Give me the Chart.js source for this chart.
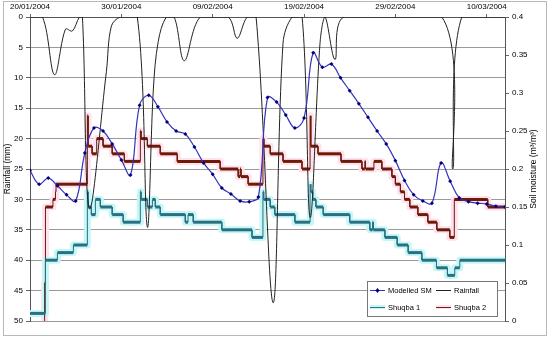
<!DOCTYPE html>
<html>
<head>
<meta charset="utf-8">
<script src="https://cdn.jsdelivr.net/npm/chart.js@4.4.0/dist/chart.umd.min.js"></script>
<style>
    html, body { margin: 0; padding: 0; background: #fff; }
    #wrap { width: 550px; height: 340px; position: relative; }
</style>
</head>
<body>
<div id="wrap"><canvas id="grafico"></canvas></div>
<script>
// eixo x: dias desde 20/01/2004
const dateLabels = ['20/01/2004', '30/01/2004', '09/02/2004', '19/02/2004', '29/02/2004', '10/03/2004'];
const lastDay = 52;

// chuva (mm) - eixo esquerdo invertido
const rainDays = [0, 1.37, 2.68, 3.88, 4.64, 5.41, 5.74, 6.50, 8.36, 8.91, 9.89, 11.75, 12.84, 13.50, 14.04, 14.92,
    15.79, 16.89, 18.64, 21.69, 22.68, 23.77, 24.75, 26.61, 27.70, 28.69, 29.79, 30.67, 31.75, 32.30, 33.39, 34.37,
    45.08, 46.28, 47.27, 52];
const rainMm = [0, 0, 9.5, 2.0, 2.3, 0, 0, 31.5, 9, 1.5, 0, 0, 34.5, 12, 4, 0,
    0, 7.2, 0, 0, 3.5, 0, 0, 47, 4.3, 0, 0, 33, 4.3, 0, 7, 0,
    0, 25, 0, 0];

// umidade modelada (m3/m3), um valor por dia
const modelledSM = [0.198, 0.180, 0.188, 0.178, 0.166, 0.158, 0.221, 0.254, 0.250, 0.233,
    0.212, 0.192, 0.284, 0.297, 0.282, 0.262, 0.250, 0.246, 0.229, 0.208,
    0.193, 0.175, 0.167, 0.158, 0.157, 0.163, 0.294, 0.288, 0.271, 0.254,
    0.267, 0.353, 0.334, 0.338, 0.320, 0.303, 0.286, 0.268, 0.250, 0.233,
    0.211, 0.185, 0.166, 0.158, 0.155, 0.208, 0.184, 0.162, 0.157, 0.155,
    0.154, 0.151, 0.150];

// Shuqba 1 - inicio de cada degrau (dia) e valor
const s1Days = [0, 1.69, 3.0, 4.75, 6.28, 6.36, 6.72, 7.16, 7.70, 9.0, 10.2, 12.08, 12.16, 12.85, 13.40, 13.72,
    14.26, 17.0, 17.3, 17.87, 21.0, 24.3, 25.5, 25.58, 26.3, 26.8, 29.0, 30.66, 30.74, 30.95, 31.3, 32.1,
    35.0, 37.2, 37.5, 37.58, 38.85, 40.2, 41.4, 42.9, 44.5, 45.7, 46.5, 47.05];
const s1Vals = [0.01, 0.08, 0.09, 0.10, 0.17, 0.15, 0.14, 0.16, 0.15, 0.14, 0.13, 0.17, 0.16, 0.15, 0.16, 0.15,
    0.14, 0.13, 0.14, 0.13, 0.12, 0.11, 0.17, 0.16, 0.15, 0.14, 0.13, 0.18, 0.17, 0.16, 0.15, 0.14,
    0.13, 0.12, 0.13, 0.12, 0.11, 0.10, 0.09, 0.08, 0.07, 0.06, 0.07, 0.08];

// Shuqba 2
const s2Days = [1.55, 1.60, 1.69, 2.51, 2.79, 2.85, 6.28, 6.36, 6.80, 7.30, 8.0, 9.0, 10.33, 12.08, 12.16, 12.85,
    14.26, 16.12, 20.82, 22.79, 23.0, 23.1, 23.88, 25.5, 25.6, 26.3, 27.7, 29.78, 30.66, 30.74, 31.53, 34.05,
    36.34, 36.65, 36.73, 37.65, 38.52, 39.62, 40.0, 40.55, 41.0, 41.58, 42.46, 43.55, 44.54, 45.96, 46.45, 50.11];
const s2Vals = [0.0, 0.05, 0.15, 0.16, 0.17, 0.18, 0.27, 0.23, 0.22, 0.24, 0.23, 0.22, 0.21, 0.25, 0.24, 0.23,
    0.22, 0.21, 0.20, 0.19, 0.20, 0.19, 0.18, 0.24, 0.23, 0.22, 0.21, 0.20, 0.27, 0.23, 0.22, 0.21,
    0.20, 0.21, 0.20, 0.21, 0.20, 0.19, 0.18, 0.17, 0.16, 0.15, 0.14, 0.13, 0.12, 0.11, 0.16, 0.15];

const fonte = "'Liberation Sans', Arial, sans-serif";
Chart.defaults.font.family = fonte;
Chart.defaults.font.size = 8;
Chart.defaults.color = '#000';

function pontosDegrau(days, vals, fim) {
    const pts = [];
    for (let i = 0; i < days.length; i++) {
        const prox = i + 1 < days.length ? days[i + 1] : fim;
        pts.push({x: days[i], y: vals[i]}, {x: prox, y: vals[i]});
    }
    return pts;
}

const rainPts = rainDays.map((d, i) => ({x: d, y: rainMm[i]}));
const smPts = modelledSM.map((v, i) => ({x: i, y: v}));
const s1Pts = pontosDegrau(s1Days, s1Vals, lastDay);
const s2Pts = pontosDegrau(s2Days, s2Vals, lastDay);

const larguraDegrau = ctx => ctx.p0.parsed.y === ctx.p1.parsed.y ? 3 : 1;

const legendaItens = [
    {label: 'Modelled SM', tipo: 'sm'},
    {label: 'Rainfall', tipo: 'rain'},
    {label: 'Shuqba 1', tipo: 's1'},
    {label: 'Shuqba 2', tipo: 's2'}
];

const extras = {
    id: 'extras',
    beforeDraw(chart) {
        const c = chart.ctx;
        c.save();
        c.strokeStyle = '#b8b8b8';
        c.lineWidth = 1;
        c.strokeRect(3.5, 1.5, 543, 334);
        c.restore();
    },
    afterDraw(chart) {
        const c = chart.ctx;
        const area = chart.chartArea;
        c.save();
        // titulo do eixo direito, de baixo para cima
        c.font = '8.5px ' + fonte;
        c.fillStyle = '#000';
        c.textAlign = 'center';
        c.textBaseline = 'middle';
        c.translate(534, (area.top + area.bottom) / 2);
        c.rotate(-Math.PI / 2);
        c.fillText('Soil moisture (m³/m³)', 0, 0);
        c.restore();

        // legenda
        const bx = 367, by = 281, bw = 130, bh = 35;
        c.save();
        c.fillStyle = '#fff';
        c.fillRect(bx, by, bw, bh);
        c.strokeStyle = '#777';
        c.lineWidth = 1;
        c.strokeRect(bx + 0.5, by + 0.5, bw, bh);
        c.font = '7.5px ' + fonte;
        c.textBaseline = 'middle';
        c.textAlign = 'left';
        legendaItens.forEach((item, i) => {
            const lx = bx + 3 + (i % 2) * 66;
            const ly = by + 9 + Math.floor(i / 2) * 17;
            c.lineCap = 'butt';
            if (item.tipo === 's1' || item.tipo === 's2') {
                c.strokeStyle = item.tipo === 's1' ? '#c6f7f7' : '#ffe2ef';
                c.lineWidth = 4;
                c.beginPath(); c.moveTo(lx, ly); c.lineTo(lx + 15, ly); c.stroke();
            }
            c.strokeStyle = item.tipo === 'sm' ? '#3434b8' : item.tipo === 'rain' ? '#222'
                : item.tipo === 's1' ? '#2c7486' : '#7a1c08';
            c.lineWidth = 1;
            c.beginPath(); c.moveTo(lx, ly + 0.5); c.lineTo(lx + 15, ly + 0.5); c.stroke();
            if (item.tipo === 'sm') {
                c.fillStyle = '#000080';
                c.beginPath();
                c.moveTo(lx + 7.5, ly - 2); c.lineTo(lx + 9.5, ly + 0.5);
                c.lineTo(lx + 7.5, ly + 3); c.lineTo(lx + 5.5, ly + 0.5);
                c.closePath(); c.fill();
            }
            c.fillStyle = '#000';
            c.fillText(item.label, lx + 18, ly + 0.5);
        });
        c.restore();
    }
};

const grafico = new Chart(document.getElementById('grafico'), {
    type: 'line',
    data: {
        datasets: [{
                label: 'Modelled SM',
                data: smPts,
                yAxisID: 'y2',
                borderColor: '#3434b8',
                borderWidth: 1.2,
                tension: 0.4,
                pointStyle: 'rectRot',
                pointRadius: 2,
                pointBackgroundColor: '#000080',
                pointBorderColor: '#000080',
                pointBorderWidth: 0
            },
            {
                label: 'Rainfall',
                data: rainPts,
                yAxisID: 'y',
                borderColor: '#222',
                borderWidth: 1,
                tension: 0.35,
                pointRadius: 0
            },
            {
                label: 'Shuqba 1',
                data: s1Pts,
                yAxisID: 'y2',
                borderColor: '#2a6f82',
                borderWidth: 3,
                pointRadius: 0,
                segment: { borderWidth: larguraDegrau }
            },
            {
                label: 'Shuqba 2',
                data: s2Pts,
                yAxisID: 'y2',
                borderColor: '#6e1a06',
                borderWidth: 3,
                pointRadius: 0,
                segment: { borderWidth: larguraDegrau }
            },
            {
                label: 'glow1',
                data: s1Pts,
                yAxisID: 'y2',
                borderColor: '#c6f7f7',
                borderWidth: 7,
                borderJoinStyle: 'round',
                pointRadius: 0
            },
            {
                label: 'glow2',
                data: s2Pts,
                yAxisID: 'y2',
                borderColor: '#ffe2ef',
                borderWidth: 7,
                borderJoinStyle: 'round',
                pointRadius: 0
            }
        ]
    },
    options: {
        responsive: true,
        maintainAspectRatio: false,
        animation: false,
        layout: {
            padding: { left: 0, right: 0, top: 0, bottom: 19 }
        },
        plugins: {
            legend: { display: false },
            tooltip: { enabled: false }
        },
        scales: {
            x: {
                type: 'linear',
                position: 'top',
                min: 0,
                max: lastDay,
                afterFit: s => { s.height = 17; },
                grid: {
                    drawOnChartArea: false,
                    tickLength: 3,
                    tickColor: '#666'
                },
                border: { color: '#555' },
                ticks: {
                    stepSize: 10,
                    includeBounds: false,
                    maxRotation: 0,
                    autoSkip: false,
                    padding: 2,
                    callback: function (value) {
                        return dateLabels[value / 10] || '';
                    }
                }
            },
            y: {
                position: 'left',
                reverse: true,
                min: 0,
                max: 50,
                afterFit: s => { s.width = 30; },
                grid: {
                    color: '#9a9a9a',
                    tickLength: 4,
                    tickColor: '#666'
                },
                border: { color: '#555' },
                ticks: { stepSize: 5, padding: 3 },
                title: {
                    display: true,
                    text: 'Rainfall (mm)',
                    font: { size: 8.5 },
                    padding: { top: 3, bottom: 0 }
                }
            },
            y2: {
                position: 'right',
                min: 0,
                max: 0.4,
                afterFit: s => { s.width = 45; },
                grid: {
                    drawOnChartArea: false,
                    tickLength: 4,
                    tickColor: '#666'
                },
                border: { color: '#555' },
                ticks: {
                    stepSize: 0.05,
                    padding: 3,
                    callback: function (value) {
                        return String(Math.round(value * 100) / 100);
                    }
                }
            }
        }
    },
    plugins: [extras]
});
</script>
</body>
</html>
